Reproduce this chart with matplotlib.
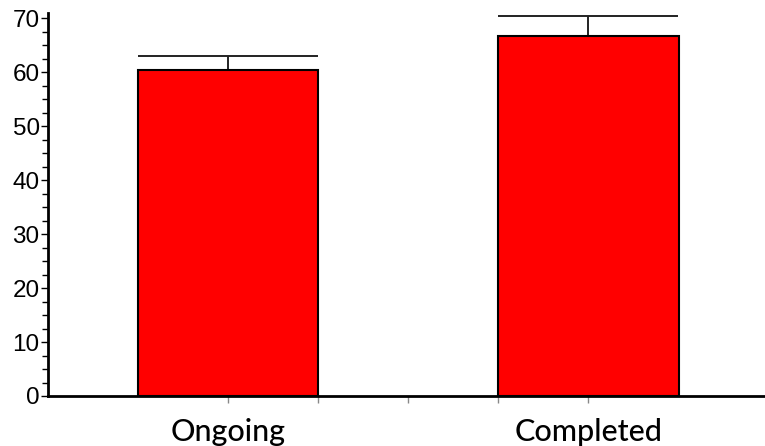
import matplotlib.pyplot as plt
from matplotlib.ticker import MultipleLocator

# data
categories = ["Ongoing", "Completed"]
means = [60.4, 66.7]
upper_err = [2.6, 3.7]
positions = [1, 3]

fig = plt.figure(figsize=(7.65, 4.46), dpi=100)
ax = fig.add_axes([48 / 765, 50 / 446, 717 / 765, 383 / 446])

ax.bar(positions, means, width=1.0, color="#ff0000", edgecolor="black",
       linewidth=1.5, zorder=2)
ax.errorbar(positions, means, yerr=[[0, 0], upper_err], fmt="none",
            ecolor="#222222", elinewidth=1.4, capsize=64.8, capthick=1.4,
            zorder=1)

ax.set_xlim(0, 3.98)
ax.set_ylim(0, 71)

ax.spines["top"].set_visible(False)
ax.spines["right"].set_visible(False)
ax.spines["left"].set_linewidth(2)
ax.spines["bottom"].set_linewidth(2)

ax.yaxis.set_major_locator(MultipleLocator(10))
ax.yaxis.set_minor_locator(MultipleLocator(2.5))
ax.tick_params(axis="y", which="major", length=5, width=1, labelsize=17.5,
               pad=1)
ax.tick_params(axis="y", which="minor", length=4, width=1)
for lbl in ax.get_yticklabels():
    lbl.set_family("Liberation Sans")

ax.set_xticks([1, 1.5, 2, 2.5, 3])
ax.set_xticklabels([categories[0], "", "", "", categories[1]])
ax.tick_params(axis="x", length=5, width=1, color="#888888", labelsize=22,
               pad=11)
for lbl in ax.get_xticklabels():
    lbl.set_family("Lato")
    lbl.set_fontweight("medium")

fig.savefig("out.png", dpi=100)
